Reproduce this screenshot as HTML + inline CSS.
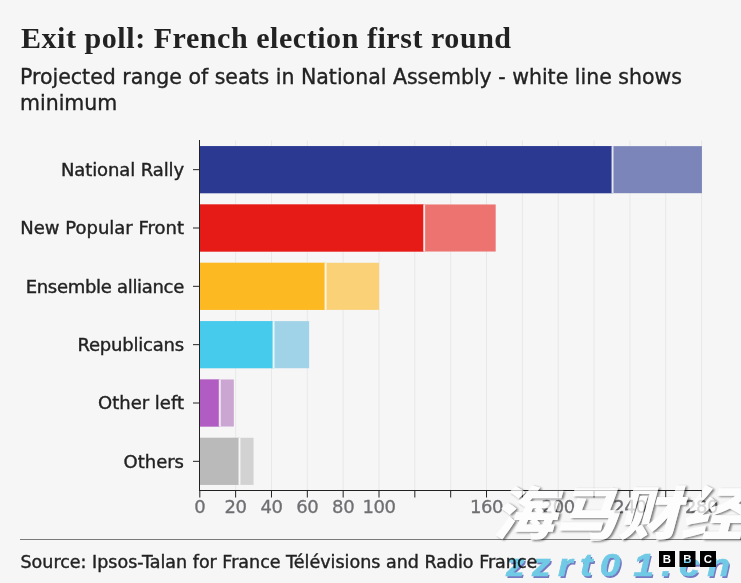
<!DOCTYPE html>
<html lang="en">
<head>
<meta charset="utf-8">
<title>Exit poll: French election first round</title>
<style>
html,body{margin:0;padding:0;}
body{width:741px;height:583px;background:#f6f6f6;position:relative;overflow:hidden;font-family:"DejaVu Sans","Liberation Sans",sans-serif;color:#222;}
.abs{position:absolute;white-space:nowrap;}
#title{left:21px;top:18.6px;font-family:"Liberation Serif",serif;font-weight:bold;font-size:30px;line-height:38px;letter-spacing:0.55px;color:#222;}
#sub1,#sub2{-webkit-text-stroke:0.35px #222;left:20px;font-size:20.5px;line-height:26px;color:#222;}
#sub1{top:64.3px;}
#sub2{top:90.3px;}
.lab{-webkit-text-stroke:0.4px #222;right:557px;font-size:18px;line-height:22px;color:#222;text-align:right;}
.tick{-webkit-text-stroke:0.3px #6e6e73;position:absolute;letter-spacing:-0.4px;font-size:18px;line-height:22px;color:#6e6e73;transform:translateX(-50%);top:496.1px;white-space:nowrap;}
#src{-webkit-text-stroke:0.4px #222;left:20.5px;top:549.7px;font-size:17.5px;line-height:24px;color:#222;}
#wm1{left:492px;top:475px;transform:scaleX(1.08);transform-origin:0 0;font-family:"Liberation Sans","Noto Sans CJK SC","WenQuanYi Zen Hei",sans-serif;font-weight:900;font-style:italic;font-size:58px;line-height:80px;color:#fff;filter:url(#wmshadow);}
#wm2{left:506px;top:548px;font-family:"Liberation Sans",sans-serif;font-weight:bold;font-style:italic;font-size:31px;line-height:36px;letter-spacing:6.2px;color:#74d2ee;-webkit-text-stroke:0.6px #74d2ee;text-shadow:1.3px 2px 0 #7a7cc8;mix-blend-mode:multiply;transform:scaleX(1.2);transform-origin:0 0;}
</style>
</head>
<body>
<div id="title" class="abs">Exit poll: French election first round</div>
<div id="sub1" class="abs">Projected range of seats in National Assembly - white line shows</div>
<div id="sub2" class="abs">minimum</div>
<svg class="abs" style="left:0;top:0" width="741" height="583" viewBox="0 0 741 583">
<defs><filter id="wmshadow" x="-5%" y="-5%" width="110%" height="110%" color-interpolation-filters="sRGB">
<feOffset in="SourceAlpha" dx="1.4" dy="1.4" result="o"/>
<feGaussianBlur in="o" stdDeviation="0.8" result="b"/>
<feComposite in="b" in2="SourceAlpha" operator="out" result="so"/>
<feComponentTransfer in="so" result="sh"><feFuncA type="linear" slope="0.5"/></feComponentTransfer>
<feComponentTransfer in="SourceGraphic" result="src"><feFuncA type="linear" slope="0.72"/></feComponentTransfer>
<feMerge><feMergeNode in="sh"/><feMergeNode in="src"/></feMerge>
</filter></defs>
<line x1="235.64" y1="140.5" x2="235.64" y2="490.5" stroke="#e8e8e8" stroke-width="1"/>
<line x1="271.48" y1="140.5" x2="271.48" y2="490.5" stroke="#e8e8e8" stroke-width="1"/>
<line x1="307.32" y1="140.5" x2="307.32" y2="490.5" stroke="#e8e8e8" stroke-width="1"/>
<line x1="343.16" y1="140.5" x2="343.16" y2="490.5" stroke="#e8e8e8" stroke-width="1"/>
<line x1="379.00" y1="140.5" x2="379.00" y2="490.5" stroke="#e8e8e8" stroke-width="1"/>
<line x1="414.84" y1="140.5" x2="414.84" y2="490.5" stroke="#e8e8e8" stroke-width="1"/>
<line x1="450.68" y1="140.5" x2="450.68" y2="490.5" stroke="#e8e8e8" stroke-width="1"/>
<line x1="486.52" y1="140.5" x2="486.52" y2="490.5" stroke="#e8e8e8" stroke-width="1"/>
<line x1="522.36" y1="140.5" x2="522.36" y2="490.5" stroke="#e8e8e8" stroke-width="1"/>
<line x1="558.20" y1="140.5" x2="558.20" y2="490.5" stroke="#e8e8e8" stroke-width="1"/>
<line x1="594.04" y1="140.5" x2="594.04" y2="490.5" stroke="#e8e8e8" stroke-width="1"/>
<line x1="629.88" y1="140.5" x2="629.88" y2="490.5" stroke="#e8e8e8" stroke-width="1"/>
<line x1="665.72" y1="140.5" x2="665.72" y2="490.5" stroke="#e8e8e8" stroke-width="1"/>
<line x1="701.56" y1="140.5" x2="701.56" y2="490.5" stroke="#e8e8e8" stroke-width="1"/>
<rect x="199.75" y="146.13" width="502.18" height="47.07" fill="#7c85b9"/>
<rect x="199.75" y="146.13" width="413.00" height="47.07" fill="#2b3990"/>
<rect x="611.55" y="146.13" width="1.9" height="47.07" fill="#ffffff" fill-opacity="0.85"/>
<line x1="193" y1="169.67" x2="199.5" y2="169.67" stroke="#222" stroke-width="1"/>
<rect x="199.75" y="204.47" width="295.93" height="47.07" fill="#ec7370"/>
<rect x="199.75" y="204.47" width="224.69" height="47.07" fill="#e61b17"/>
<rect x="423.24" y="204.47" width="1.9" height="47.07" fill="#ffffff" fill-opacity="0.85"/>
<line x1="193" y1="228.00" x2="199.5" y2="228.00" stroke="#222" stroke-width="1"/>
<rect x="199.75" y="262.80" width="179.35" height="47.07" fill="#fad177"/>
<rect x="199.75" y="262.80" width="126.05" height="47.07" fill="#fdb922"/>
<rect x="324.60" y="262.80" width="1.9" height="47.07" fill="#ffffff" fill-opacity="0.85"/>
<line x1="193" y1="286.33" x2="199.5" y2="286.33" stroke="#222" stroke-width="1"/>
<rect x="199.75" y="321.13" width="109.40" height="47.07" fill="#a0d3e7"/>
<rect x="199.75" y="321.13" width="74.03" height="47.07" fill="#47cbec"/>
<rect x="272.58" y="321.13" width="1.9" height="47.07" fill="#ffffff" fill-opacity="0.85"/>
<line x1="193" y1="344.67" x2="199.5" y2="344.67" stroke="#222" stroke-width="1"/>
<rect x="199.75" y="379.47" width="34.08" height="47.07" fill="#cca6d3"/>
<rect x="199.75" y="379.47" width="20.23" height="47.07" fill="#b05cc2"/>
<rect x="218.78" y="379.47" width="1.9" height="47.07" fill="#ffffff" fill-opacity="0.85"/>
<line x1="193" y1="403.00" x2="199.5" y2="403.00" stroke="#222" stroke-width="1"/>
<rect x="199.75" y="437.80" width="53.80" height="47.07" fill="#d2d2d2"/>
<rect x="199.75" y="437.80" width="39.96" height="47.07" fill="#bababa"/>
<rect x="238.51" y="437.80" width="1.9" height="47.07" fill="#ffffff" fill-opacity="0.85"/>
<line x1="193" y1="461.33" x2="199.5" y2="461.33" stroke="#222" stroke-width="1"/>
<line x1="199.5" y1="140.0" x2="199.5" y2="491.0" stroke="#222" stroke-width="1"/>
<line x1="199" y1="490.5" x2="702.06" y2="490.5" stroke="#222" stroke-width="1"/>
<line x1="199.80" y1="490.5" x2="199.80" y2="497.5" stroke="#222" stroke-width="1"/>
<line x1="235.64" y1="490.5" x2="235.64" y2="497.5" stroke="#222" stroke-width="1"/>
<line x1="271.48" y1="490.5" x2="271.48" y2="497.5" stroke="#222" stroke-width="1"/>
<line x1="307.32" y1="490.5" x2="307.32" y2="497.5" stroke="#222" stroke-width="1"/>
<line x1="343.16" y1="490.5" x2="343.16" y2="497.5" stroke="#222" stroke-width="1"/>
<line x1="379.00" y1="490.5" x2="379.00" y2="497.5" stroke="#222" stroke-width="1"/>
<line x1="414.84" y1="490.5" x2="414.84" y2="497.5" stroke="#222" stroke-width="1"/>
<line x1="450.68" y1="490.5" x2="450.68" y2="497.5" stroke="#222" stroke-width="1"/>
<line x1="486.52" y1="490.5" x2="486.52" y2="497.5" stroke="#222" stroke-width="1"/>
<line x1="522.36" y1="490.5" x2="522.36" y2="497.5" stroke="#222" stroke-width="1"/>
<line x1="558.20" y1="490.5" x2="558.20" y2="497.5" stroke="#222" stroke-width="1"/>
<line x1="594.04" y1="490.5" x2="594.04" y2="497.5" stroke="#222" stroke-width="1"/>
<line x1="629.88" y1="490.5" x2="629.88" y2="497.5" stroke="#222" stroke-width="1"/>
<line x1="665.72" y1="490.5" x2="665.72" y2="497.5" stroke="#222" stroke-width="1"/>
<line x1="701.56" y1="490.5" x2="701.56" y2="497.5" stroke="#222" stroke-width="1"/>
<line x1="20" y1="539.5" x2="741" y2="539.5" stroke="#7a7a7a" stroke-width="1"/>
<rect x="659" y="551" width="16" height="16" fill="#000"/>
<text x="667" y="563.4" text-anchor="middle" font-family="Liberation Sans, sans-serif" font-weight="bold" font-size="11.5" fill="#fff">B</text>
<rect x="679.5" y="551" width="16" height="16" fill="#000"/>
<text x="687.5" y="563.4" text-anchor="middle" font-family="Liberation Sans, sans-serif" font-weight="bold" font-size="11.5" fill="#fff">B</text>
<rect x="700" y="551" width="16" height="16" fill="#000"/>
<text x="708" y="563.4" text-anchor="middle" font-family="Liberation Sans, sans-serif" font-weight="bold" font-size="11.5" fill="#fff">C</text>
</svg>
<div class="abs lab" style="top:158.87px;letter-spacing:-0.1px">National Rally</div>
<div class="abs lab" style="top:217.20px;letter-spacing:0px">New Popular Front</div>
<div class="abs lab" style="top:275.53px;letter-spacing:-0.3px">Ensemble alliance</div>
<div class="abs lab" style="top:333.87px;letter-spacing:-0.2px">Republicans</div>
<div class="abs lab" style="top:392.20px;letter-spacing:0px">Other left</div>
<div class="abs lab" style="top:450.53px;letter-spacing:0px">Others</div>
<div class="tick" style="left:199.80px">0</div>
<div class="tick" style="left:235.64px">20</div>
<div class="tick" style="left:271.48px">40</div>
<div class="tick" style="left:307.32px">60</div>
<div class="tick" style="left:343.16px">80</div>
<div class="tick" style="left:379.00px">100</div>
<div class="tick" style="left:486.52px">160</div>
<div class="tick" style="left:558.20px">200</div>
<div class="tick" style="left:629.88px">240</div>
<div class="tick" style="left:701.56px">280</div>
<div id="src" class="abs">Source: Ipsos-Talan for France Télévisions and Radio France</div>
<div id="wm1" class="abs">海马财经</div>
<div id="wm2" class="abs">zzrt<span style="letter-spacing:10.5px">0</span>1.cn</div>
</body>
</html>
